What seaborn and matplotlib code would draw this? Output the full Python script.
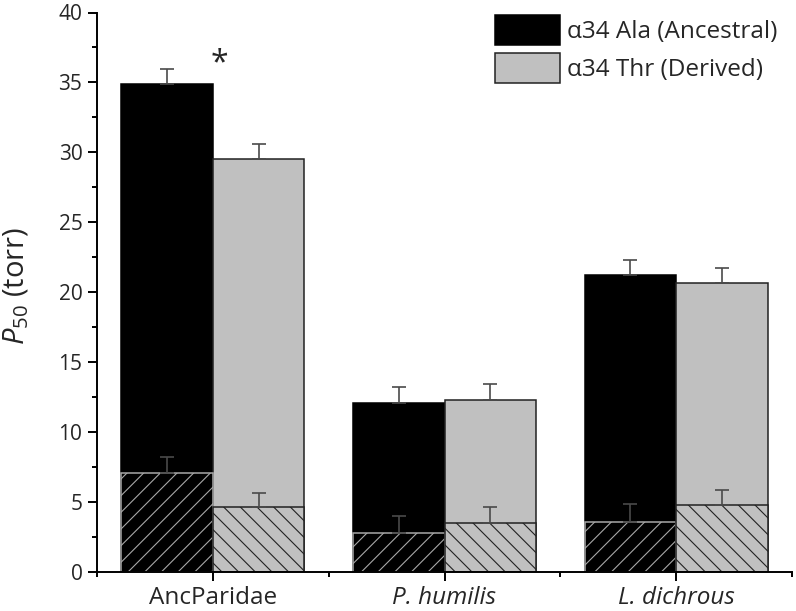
import numpy as np
import pandas as pd
import seaborn as sns
import matplotlib.pyplot as plt
from matplotlib.patches import Patch
from matplotlib.ticker import MultipleLocator, FixedLocator

# data
species = ["AncParidae", "P. humilis", "L. dichrous"]
variants = ["α34 Ala (Ancestral)", "α34 Thr (Derived)"]

# full bars
p50_ala = [34.85, 12.05, 21.2]
p50_ala_err = [1.1, 1.15, 1.1]
p50_thr = [29.5, 12.3, 20.65]
p50_thr_err = [1.1, 1.1, 1.05]

# hatched lower bars
low_ala = [7.05, 2.75, 3.55]
low_ala_err = [1.15, 1.25, 1.25]
low_thr = [4.6, 3.45, 4.75]
low_thr_err = [1.0, 1.15, 1.1]

df_top = pd.DataFrame({
    "species": species * 2,
    "variant": [variants[0]] * 3 + [variants[1]] * 3,
    "p50": p50_ala + p50_thr,
    "err": p50_ala_err + p50_thr_err,
})
df_low = pd.DataFrame({
    "species": species * 2,
    "variant": [variants[0]] * 3 + [variants[1]] * 3,
    "p50": low_ala + low_thr,
    "err": low_ala_err + low_thr_err,
})

sns.set_style("ticks")
plt.rcParams["font.family"] = ["Open Sans", "DejaVu Sans"]
plt.rcParams["mathtext.fontset"] = "custom"
plt.rcParams["mathtext.rm"] = "Open Sans"
plt.rcParams["mathtext.it"] = "Open Sans:italic"
plt.rcParams["hatch.linewidth"] = 0.8

fig = plt.figure(figsize=(7.96, 6.11), dpi=100)
ax = fig.add_axes([97 / 796, 1 - 571.5 / 611, 695 / 796, 559 / 611])

black = "#000000"
grey = "#c0c0c0"

sns.barplot(data=df_top, x="species", y="p50", hue="variant",
            palette=[black, grey], width=0.79, errorbar=None,
            legend=False, saturation=1, ax=ax)
n_top = len(ax.patches)
sns.barplot(data=df_low, x="species", y="p50", hue="variant",
            palette=[black, grey], width=0.79, errorbar=None,
            legend=False, saturation=1, ax=ax)

top_bars = ax.patches[:n_top]
low_bars = ax.patches[n_top:]

for i, p in enumerate(top_bars):
    p.set_edgecolor("#000000" if i < 3 else "#222222")
    p.set_linewidth(1.1)
for i, p in enumerate(low_bars):
    if i < 3:
        p.set_edgecolor("#a8a8a8")
        p.set_hatch("//")
    else:
        p.set_edgecolor("#222222")
        p.set_hatch("\\\\")
    p.set_linewidth(1.1)

# upper-only error bars
for bars, df in [(top_bars, df_top), (low_bars, df_low)]:
    xs = [p.get_x() + p.get_width() / 2 for p in bars]
    ys = [p.get_height() for p in bars]
    errs = list(df["err"])
    ax.errorbar(xs, ys, yerr=[np.zeros(len(errs)), errs], fmt="none",
                ecolor="#4a4a4a", elinewidth=1.2, capsize=4.8, capthick=1.2,
                zorder=5)

# significance mark
ax.text(0.03, 36.3, "*", ha="center", va="center", fontsize=23)

ax.set_xlim(-0.5, 2.5)
ax.set_ylim(0, 40)
ax.yaxis.set_major_locator(MultipleLocator(5))
ax.yaxis.set_minor_locator(MultipleLocator(2.5))
ax.xaxis.set_minor_locator(FixedLocator([-0.5, 0.5, 1.5, 2.5]))
ax.tick_params(axis="both", which="major", direction="out", length=6.5,
               width=1.4, color="black")
ax.tick_params(axis="both", which="minor", direction="out", length=3.6,
               width=1.4, color="black")
ax.tick_params(axis="y", labelsize=15, pad=4)
ax.tick_params(axis="x", labelsize=17.5, pad=4)
for spine in ["left", "bottom"]:
    ax.spines[spine].set_linewidth(1.4)
    ax.spines[spine].set_color("black")
sns.despine(ax=ax)

for lab in ax.get_xticklabels():
    if lab.get_text() != "AncParidae":
        lab.set_style("italic")

ax.set_xlabel("")
ax.set_ylabel(r"$\mathit{P}_{\mathrm{50}}$ (torr)", fontsize=21)
ax.yaxis.set_label_coords((31 - 97) / 695, 0.51)

handles = [Patch(facecolor=black, edgecolor="#000000", linewidth=1.1),
           Patch(facecolor=grey, edgecolor="#222222", linewidth=1.1)]
ax.legend(handles, variants, loc="upper left",
          bbox_to_anchor=(495 / 796, 1 - 15 / 611),
          bbox_transform=fig.transFigure, frameon=False, borderpad=0,
          borderaxespad=0, handlelength=2.67, handleheight=1.52,
          handletextpad=0.29, labelspacing=0.35, fontsize=17.5)

fig.savefig("out.png", dpi=100)
